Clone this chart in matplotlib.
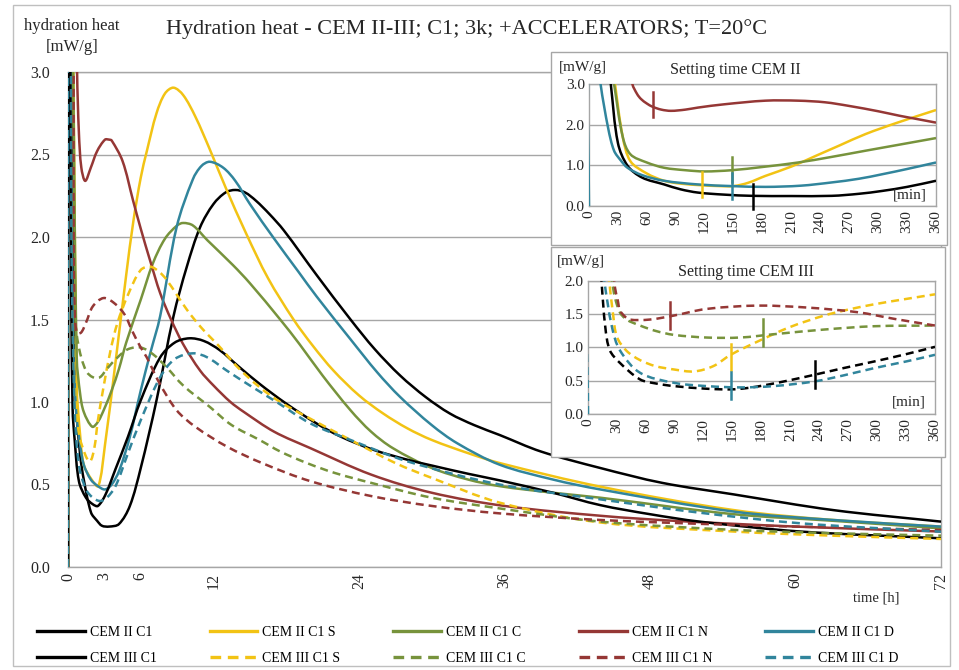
import matplotlib
matplotlib.use("Agg")
import numpy as np
import matplotlib.pyplot as plt
from matplotlib.patches import Rectangle, PathPatch
from matplotlib.path import Path
from matplotlib.lines import Line2D

plt.rcParams['font.family'] = ['Liberation Serif', 'DejaVu Serif']

# ---------------- main chart data: time [h] -> heat flow [mW/g] ----------------
t_ii_c1 = [0, 0.01, 0.30, 0.38, 0.50, 0.67, 1.0, 1.3, 1.9, 2.4, 2.8, 3.4, 4.2, 5.1, 6.0, 7.3, 8.7, 9.8,
           10.9, 12.0, 13.0, 13.8, 14.6, 15.5, 16.6, 17.8, 20.5, 23.3, 25.3, 27.4, 29.5, 31.5, 33.5, 35.6,
           39.0, 43.9, 49.0, 54.9, 63.1, 72.0]
q_ii_c1 = [0, 4.5, 4.0, 3.0, 1.7, 0.99, 0.68, 0.53, 0.33, 0.28, 0.25, 0.245, 0.26, 0.37, 0.60, 1.01, 1.52,
           1.82, 2.06, 2.20, 2.27, 2.285, 2.27, 2.22, 2.14, 2.04, 1.77, 1.50, 1.32, 1.16, 1.03, 0.93, 0.86,
           0.80, 0.70, 0.60, 0.51, 0.44, 0.345, 0.275]

t_ii_s = [0, 0.01, 0.35, 0.45, 0.72, 1.0, 1.3, 1.95, 2.5, 3.05, 3.9, 4.8, 5.4, 6.0, 6.5, 7.3, 8.0, 8.7,
          9.5, 10.5, 11.7, 13.0, 14.7, 16.5, 18.6, 20.2, 21.9, 24.0, 26.0, 28.0, 30.0, 33.0, 35.6, 43.9,
          54.9, 63.1, 72]
q_ii_s = [0, 4.5, 4.0, 3.0, 1.10, 0.80, 0.62, 0.53, 0.49, 0.74, 1.23, 1.77, 2.10, 2.36, 2.52, 2.75, 2.87,
          2.905, 2.86, 2.73, 2.53, 2.30, 2.02, 1.75, 1.50, 1.34, 1.19, 1.04, 0.93, 0.84, 0.77, 0.69, 0.63,
          0.487, 0.345, 0.285, 0.245]

t_ii_c = [0, 0.01, 0.3, 0.43, 0.72, 1.0, 1.3, 2.0, 2.47, 3.0, 3.6, 4.2, 4.8, 6.0, 7.0, 8.0, 9.0, 9.5,
          10.3, 11.5, 13.6, 15.0, 17.5, 19.1, 21.0, 23.3, 25.0, 26.8, 30.0, 33.0, 35.6, 40.0, 43.9, 54.9,
          63.1, 72]
q_ii_c = [0, 4.5, 4.0, 3.0, 1.27, 1.05, 0.94, 0.85, 0.88, 0.96, 1.07, 1.20, 1.36, 1.62, 1.84, 1.99, 2.07,
          2.085, 2.07, 1.98, 1.83, 1.72, 1.50, 1.35, 1.16, 0.95, 0.82, 0.72, 0.60, 0.53, 0.49, 0.45, 0.42,
          0.32, 0.28, 0.234]

t_ii_n = [0, 0.01, 0.6, 0.75, 0.9, 1.1, 1.42, 1.88, 2.4, 3.05, 3.4, 3.6, 4.5, 5.37, 6.0, 6.8, 7.6, 8.5,
          9.5, 10.9, 12.0, 13.4, 14.5, 17.0, 20.0, 25.0, 30.0, 36.0, 44.0, 50.0, 60.0, 72]
q_ii_n = [0, 4.5, 4.0, 3.0, 2.63, 2.42, 2.34, 2.42, 2.52, 2.59, 2.59, 2.585, 2.46, 2.22, 2.05, 1.85, 1.66,
          1.50, 1.35, 1.19, 1.10, 1.00, 0.94, 0.82, 0.72, 0.56, 0.45, 0.37, 0.31, 0.28, 0.245, 0.215]

t_ii_d = [0, 0.01, 0.15, 0.2, 0.43, 0.67, 1.0, 1.3, 1.88, 2.47, 3.05, 3.6, 4.2, 5.07, 6.0, 6.8, 7.6,
          8.96, 10.3, 11.0, 11.7, 12.8, 13.8, 15.0, 17.0, 19.0, 20.5, 23.3, 25.5, 27.4, 30.0, 32.1, 35.6,
          40.0, 43.9, 54.9, 63.1, 72]
q_ii_d = [0, 4.5, 4.0, 3.0, 1.36, 0.94, 0.74, 0.62, 0.53, 0.49, 0.47, 0.50, 0.58, 0.78, 1.07, 1.30, 1.52,
          2.06, 2.35, 2.43, 2.456, 2.42, 2.34, 2.20, 1.99, 1.79, 1.64, 1.38, 1.18, 1.03, 0.86, 0.75, 0.62,
          0.53, 0.47, 0.336, 0.285, 0.245]

t_iii_c1 = [0, 0.01, 0.15, 0.23, 0.38, 0.55, 0.9, 1.48, 2.05, 2.47, 3.1, 3.9, 4.95, 6.0, 7.6, 8.8, 10.0,
            11.2, 12.5, 14.0, 15.8, 18.0, 20.5, 22.5, 25.2, 28.0, 30.0, 33.0, 35.6, 40.0, 43.9, 48.0,
            52.1, 60.4, 72]
q_iii_c1 = [0, 4.5, 4.0, 2.0, 0.96, 0.77, 0.52, 0.42, 0.38, 0.37, 0.44, 0.59, 0.79, 1.01, 1.27, 1.36,
            1.386, 1.37, 1.315, 1.22, 1.11, 0.99, 0.87, 0.79, 0.71, 0.65, 0.615, 0.565, 0.525, 0.45,
            0.375, 0.32, 0.275, 0.215, 0.174]

t_iii_s = [0, 0.01, 0.25, 0.33, 0.5, 0.9, 1.48, 1.83, 2.17, 2.47, 2.93, 3.5, 4.08, 4.95, 6.0, 6.8, 7.5,
           8.14, 9.8, 11.0, 12.5, 14.0, 15.8, 17.5, 19.7, 23.3, 27.0, 30.0, 35.6, 43.9, 54.9, 63.0, 72]
q_iii_s = [0, 4.5, 4.0, 2.0, 1.16, 0.81, 0.67, 0.64, 0.72, 0.89, 1.09, 1.31, 1.48, 1.65, 1.80, 1.82, 1.79,
           1.74, 1.56, 1.45, 1.335, 1.21, 1.09, 1.00, 0.91, 0.77, 0.63, 0.54, 0.39, 0.27, 0.215, 0.19, 0.17]

t_iii_c = [0, 0.01, 0.3, 0.4, 0.55, 0.9, 1.48, 2.05, 2.63, 3.2, 4.08, 4.95, 6.0, 7.0, 8.14, 9.5, 11.7,
           13.5, 15.8, 17.5, 19.7, 22.0, 25.0, 30.0, 35.6, 43.9, 54.9, 63.0, 72]
q_iii_c = [0, 4.5, 4.0, 2.0, 1.53, 1.33, 1.19, 1.15, 1.15, 1.20, 1.27, 1.32, 1.33, 1.29, 1.21, 1.10, 0.97,
           0.86, 0.77, 0.70, 0.63, 0.57, 0.51, 0.42, 0.355, 0.275, 0.225, 0.205, 0.19]

t_iii_n = [0, 0.01, 0.4, 0.47, 0.55, 0.72, 1.07, 1.48, 2.05, 2.93, 3.8, 4.67, 5.3, 6.0, 6.5, 7.5, 8.96,
           10.5, 13.1, 16.0, 20.0, 25.0, 30.0, 35.6, 43.9, 54.9, 63, 72]
q_iii_n = [0, 4.5, 4.0, 1.9, 1.56, 1.42, 1.42, 1.48, 1.58, 1.63, 1.60, 1.53, 1.43, 1.33, 1.27, 1.12, 0.95,
           0.85, 0.73, 0.63, 0.52, 0.43, 0.37, 0.325, 0.285, 0.255, 0.24, 0.224]

t_iii_d = [0, 0.01, 0.2, 0.28, 0.55, 0.9, 1.48, 2.05, 2.63, 3.2, 3.92, 4.95, 6.0, 7.6, 8.8, 10.3, 11.5,
           13.1, 15.0, 17.2, 20.0, 23.3, 28.0, 35.6, 43.9, 52.0, 60.4, 72]
q_iii_d = [0, 4.5, 4.0, 2.0, 0.96, 0.62, 0.47, 0.42, 0.40, 0.42, 0.49, 0.69, 0.89, 1.15, 1.26, 1.295, 1.27,
           1.19, 1.10, 1.00, 0.87, 0.77, 0.64, 0.50, 0.41, 0.33, 0.265, 0.214]

# ---------------- setting-time insets: time [min] -> heat flow [mW/g] ----------------
m2_c1 = [20, 22.6, 30, 40, 55, 78, 95, 113, 140, 169, 210, 252, 280, 304, 330, 360]
h2_c1 = [3.6, 3.0, 1.55, 0.99, 0.70, 0.53, 0.41, 0.33, 0.28, 0.25, 0.245, 0.25, 0.30, 0.37, 0.47, 0.62]
m2_s = [24, 27, 35, 43, 60, 78, 95, 117, 135, 150, 165, 183, 210, 235, 260, 287, 320, 360]
h2_s = [3.6, 3.0, 1.7, 1.10, 0.80, 0.62, 0.55, 0.51, 0.49, 0.49, 0.57, 0.74, 0.97, 1.23, 1.49, 1.77, 2.05, 2.36]
m2_c = [22, 26, 35, 43, 60, 78, 100, 120, 148, 180, 217, 250, 287, 320, 360]
h2_c = [3.6, 3.0, 1.7, 1.27, 1.07, 0.94, 0.88, 0.85, 0.88, 0.96, 1.07, 1.20, 1.36, 1.50, 1.67]
m2_n = [42, 45, 50, 54, 60, 66, 75, 85, 100, 113, 140, 183, 217, 245, 270, 300, 322, 340, 360]
h2_n = [3.6, 3.0, 2.75, 2.63, 2.52, 2.44, 2.37, 2.34, 2.37, 2.42, 2.50, 2.59, 2.59, 2.55, 2.46, 2.33,
        2.22, 2.14, 2.05]
m2_d = [0, 0, 10, 12, 20, 26, 33, 40, 55, 78, 113, 148, 183, 220, 252, 280, 304, 330, 360]
h2_d = [0, 3.6, 3.6, 3.0, 1.9, 1.36, 1.12, 0.94, 0.76, 0.62, 0.53, 0.49, 0.47, 0.50, 0.58, 0.67, 0.78,
        0.91, 1.07]

m3_c1 = [12, 14, 18, 22.6, 33, 54, 70, 89, 123, 148, 165, 186, 210, 235, 265, 297, 330, 360]
h3_c1 = [2.5, 2.0, 1.3, 0.96, 0.77, 0.52, 0.46, 0.42, 0.38, 0.37, 0.39, 0.44, 0.51, 0.59, 0.69, 0.79, 0.90, 1.01]
m3_s = [18, 22, 26, 30, 40, 54, 70, 89, 110, 130, 148, 176, 210, 245, 270, 297, 330, 360]
h3_s = [2.5, 2.0, 1.5, 1.16, 0.95, 0.81, 0.72, 0.67, 0.64, 0.72, 0.89, 1.09, 1.31, 1.48, 1.57, 1.65, 1.73, 1.80]
m3_c = [22, 25, 28, 33, 40, 54, 70, 89, 123, 158, 193, 245, 297, 360]
h3_c = [2.5, 2.0, 1.75, 1.53, 1.42, 1.33, 1.25, 1.19, 1.15, 1.15, 1.20, 1.27, 1.32, 1.33]
m3_n = [24, 28, 31, 33, 38, 43, 64, 89, 123, 176, 228, 280, 318, 360]
h3_n = [2.5, 1.9, 1.7, 1.56, 1.47, 1.42, 1.42, 1.48, 1.58, 1.63, 1.60, 1.53, 1.43, 1.33]
m3_d = [0, 0, 14, 17, 25, 33, 54, 89, 123, 158, 193, 235, 265, 297, 330, 360]
h3_d = [0, 2.5, 2.5, 2.0, 1.3, 0.96, 0.62, 0.47, 0.42, 0.40, 0.42, 0.49, 0.58, 0.69, 0.79, 0.89]

# setting times [min] and heat flow at that time, order: C1, S, C, N, D
set2_min = [170, 117, 148, 66, 148]
set2_val = [0.23, 0.53, 0.90, 2.50, 0.49]
set3_min = [236, 148, 182, 85, 148]
set3_val = [0.59, 0.86, 1.23, 1.48, 0.43]

labels_ii = ['CEM II C1', 'CEM II C1 S', 'CEM II C1 C', 'CEM II C1 N', 'CEM II C1 D']
labels_iii = ['CEM III C1', 'CEM III C1 S', 'CEM III C1 C', 'CEM III C1 N', 'CEM III C1 D']
main_hours_ticks = [0, 3, 6, 12, 24, 36, 48, 60, 72]
main_heat_ticks = [0.0, 0.5, 1.0, 1.5, 2.0, 2.5, 3.0]
inset_min_ticks = list(range(0, 361, 30))

# ---------------- styling ----------------
COLORS = ['#000000', '#F2C314', '#77933C', '#953735', '#31859C']
GRID = '#A6A6A6'
TXT = '#262626'
LW = 1.8
DASH = (0, (3.2, 2.0))

W, H = 959, 670


def fx(px):
    return px / W


def fy(py):
    return 1 - py / H


def smooth_line(a, xs, ys, color, ls='-', lw=LW, z=3):
    """Draw a series as a smoothed curve (cubic Bezier through every data point)."""
    bbox = a.get_position()
    x0, x1 = a.get_xlim()
    y0, y1 = a.get_ylim()
    sx = bbox.width * W / (x1 - x0)
    sy = bbox.height * H / (y1 - y0)
    P = np.column_stack([np.asarray(xs, float) * sx, np.asarray(ys, float) * sy])
    n = len(P)
    verts = [P[0]]
    codes = [Path.MOVETO]
    for i in range(n - 1):
        p0 = P[i - 1] if i > 0 else P[i]
        p1, p2 = P[i], P[i + 1]
        p3 = P[i + 2] if i + 2 < n else P[i + 1]
        d01 = np.hypot(*(p1 - p0))
        d12 = np.hypot(*(p2 - p1))
        d23 = np.hypot(*(p3 - p2))
        t1 = (p2 - p0) * d12 / (3 * (d01 + d12)) if d01 + d12 > 0 else np.zeros(2)
        t2 = (p3 - p1) * d12 / (3 * (d12 + d23)) if d12 + d23 > 0 else np.zeros(2)
        verts += [p1 + t1, p2 - t2, p2]
        codes += [Path.CURVE4] * 3
    V = np.array(verts) / np.array([sx, sy])
    patch = PathPatch(Path(V, codes), facecolor='none', edgecolor=color, lw=lw, ls=ls,
                      joinstyle='round', capstyle='butt', zorder=z)
    a.add_patch(patch)


fig = plt.figure(figsize=(W / 100, H / 100), dpi=100)
fig.patch.set_facecolor('white')

# outer chart border
fig.add_artist(Rectangle((fx(13), fy(666)), fx(950) - fx(13), fy(5) - fy(666),
                         transform=fig.transFigure, fill=False, edgecolor='#BFBFBF', lw=1.0, zorder=0))

ax = fig.add_axes([fx(68), fy(567), fx(941) - fx(68), fy(72) - fy(567)])
ax.set_zorder(0.5)
ax.set_xlim(0, 72)
ax.set_ylim(0, 3.0)


def style_axes(a, xt, yt, yfmt, fs):
    for s in a.spines.values():
        s.set_color(GRID)
        s.set_linewidth(1.0)
    a.set_xticks(xt)
    a.set_yticks(yt)
    a.set_yticklabels([yfmt.format(v) for v in yt], fontsize=fs, color=TXT)
    a.set_xticklabels([str(v) for v in xt], rotation=90, fontsize=fs, color=TXT)
    a.tick_params(length=0, pad=4)
    a.yaxis.grid(True, color=GRID, lw=1.0)
    a.set_axisbelow(True)


main_t = [t_ii_c1, t_ii_s, t_ii_c, t_ii_n, t_ii_d]
main_q = [q_ii_c1, q_ii_s, q_ii_c, q_ii_n, q_ii_d]
main_t3 = [t_iii_c1, t_iii_s, t_iii_c, t_iii_n, t_iii_d]
main_q3 = [q_iii_c1, q_iii_s, q_iii_c, q_iii_n, q_iii_d]

for i in range(5):
    smooth_line(ax, main_t[i], main_q[i], COLORS[i])
for i in range(5):
    smooth_line(ax, main_t3[i], main_q3[i], COLORS[i], ls='-' if i == 0 else DASH)

style_axes(ax, main_hours_ticks, main_heat_ticks, '{:.1f}', 11.5)
ax.tick_params(axis='y', pad=13)

fig.text(fx(467), fy(29), 'Hydration heat - CEM II-III; C1; 3k; +ACCELERATORS; T=20°C',
         ha='center', va='center', fontsize=16, color=TXT)
fig.text(fx(72), fy(26), 'hydration heat', ha='center', va='center', fontsize=12, color=TXT)
fig.text(fx(72), fy(47), '[mW/g]', ha='center', va='center', fontsize=12, color=TXT)
fig.text(fx(876), fy(598), 'time [h]', ha='center', va='center', fontsize=10.5, color=TXT)

# ---------------- inset boxes ----------------
fig.add_artist(Rectangle((fx(551), fy(245)), fx(947) - fx(551), fy(52) - fy(245),
                         transform=fig.transFigure, facecolor='white', edgecolor=GRID, lw=1.0, zorder=1))
fig.add_artist(Rectangle((fx(551), fy(457)), fx(945) - fx(551), fy(247) - fy(457),
                         transform=fig.transFigure, facecolor='white', edgecolor=GRID, lw=1.0, zorder=1))

ins2 = fig.add_axes([fx(589), fy(206), fx(936) - fx(589), fy(84) - fy(206)])
ins2.set_zorder(2)
ins3 = fig.add_axes([fx(588), fy(414), fx(935) - fx(588), fy(281) - fy(414)])
ins3.set_zorder(2)
ins2.set_xlim(0, 360)
ins2.set_ylim(0, 3.0)
ins3.set_xlim(0, 360)
ins3.set_ylim(0, 2.0)

ins2_m = [m2_c1, m2_s, m2_c, m2_n, m2_d]
ins2_h = [h2_c1, h2_s, h2_c, h2_n, h2_d]
ins3_m = [m3_c1, m3_s, m3_c, m3_n, m3_d]
ins3_h = [h3_c1, h3_s, h3_c, h3_n, h3_d]

for i in range(5):
    smooth_line(ins2, ins2_m[i], ins2_h[i], COLORS[i])
    smooth_line(ins3, ins3_m[i], ins3_h[i], COLORS[i], ls=DASH)

for i in range(5):
    ins2.plot([set2_min[i], set2_min[i]], [set2_val[i] - 0.31, set2_val[i] + 0.31],
              color=COLORS[i], lw=LW, zorder=4, clip_on=False)
    ins3.plot([set3_min[i], set3_min[i]], [set3_val[i] - 0.2, set3_val[i] + 0.2],
              color=COLORS[i], lw=LW, zorder=4, clip_on=False)

style_axes(ins2, inset_min_ticks, [0.0, 1.0, 2.0, 3.0], '{:.1f}', 11)
style_axes(ins3, inset_min_ticks, [0.0, 0.5, 1.0, 1.5, 2.0], '{:.1f}', 11)
for a in (ins2, ins3):
    a.tick_params(pad=3)
    a.set_facecolor('white')

ins2.text(350, 0.12, '[min]', ha='right', va='bottom', fontsize=11, color=TXT, zorder=5)
ins3.text(350, 0.08, '[min]', ha='right', va='bottom', fontsize=11, color=TXT, zorder=5)
fig.text(fx(583), fy(67), '[mW/g]', ha='center', va='center', fontsize=11, color=TXT, zorder=3)
fig.text(fx(735), fy(70), 'Setting time CEM II', ha='center', va='center', fontsize=11.5,
         color=TXT, zorder=3)
fig.text(fx(581), fy(261), '[mW/g]', ha='center', va='center', fontsize=11, color=TXT, zorder=3)
fig.text(fx(746), fy(272), 'Setting time CEM III', ha='center', va='center', fontsize=11.5,
         color=TXT, zorder=3)

# ---------------- legend: CEM II on the first row, CEM III on the second ----------------
handles, names = [], []
for i in range(5):
    handles.append(Line2D([], [], color=COLORS[i], lw=LW + 0.6))
    names.append(labels_ii[i])
    handles.append(Line2D([], [], color=COLORS[i], lw=LW + 0.6, ls='-' if i == 0 else DASH))
    names.append(labels_iii[i])

fig.legend(handles, names, ncol=5, loc='upper left', bbox_to_anchor=(fx(37), fy(626)),
           frameon=False, fontsize=10, handlelength=3.45, handletextpad=0.36,
           columnspacing=3.8, labelspacing=0.95, borderpad=0, borderaxespad=0)

fig.savefig('out.png', dpi=100)
